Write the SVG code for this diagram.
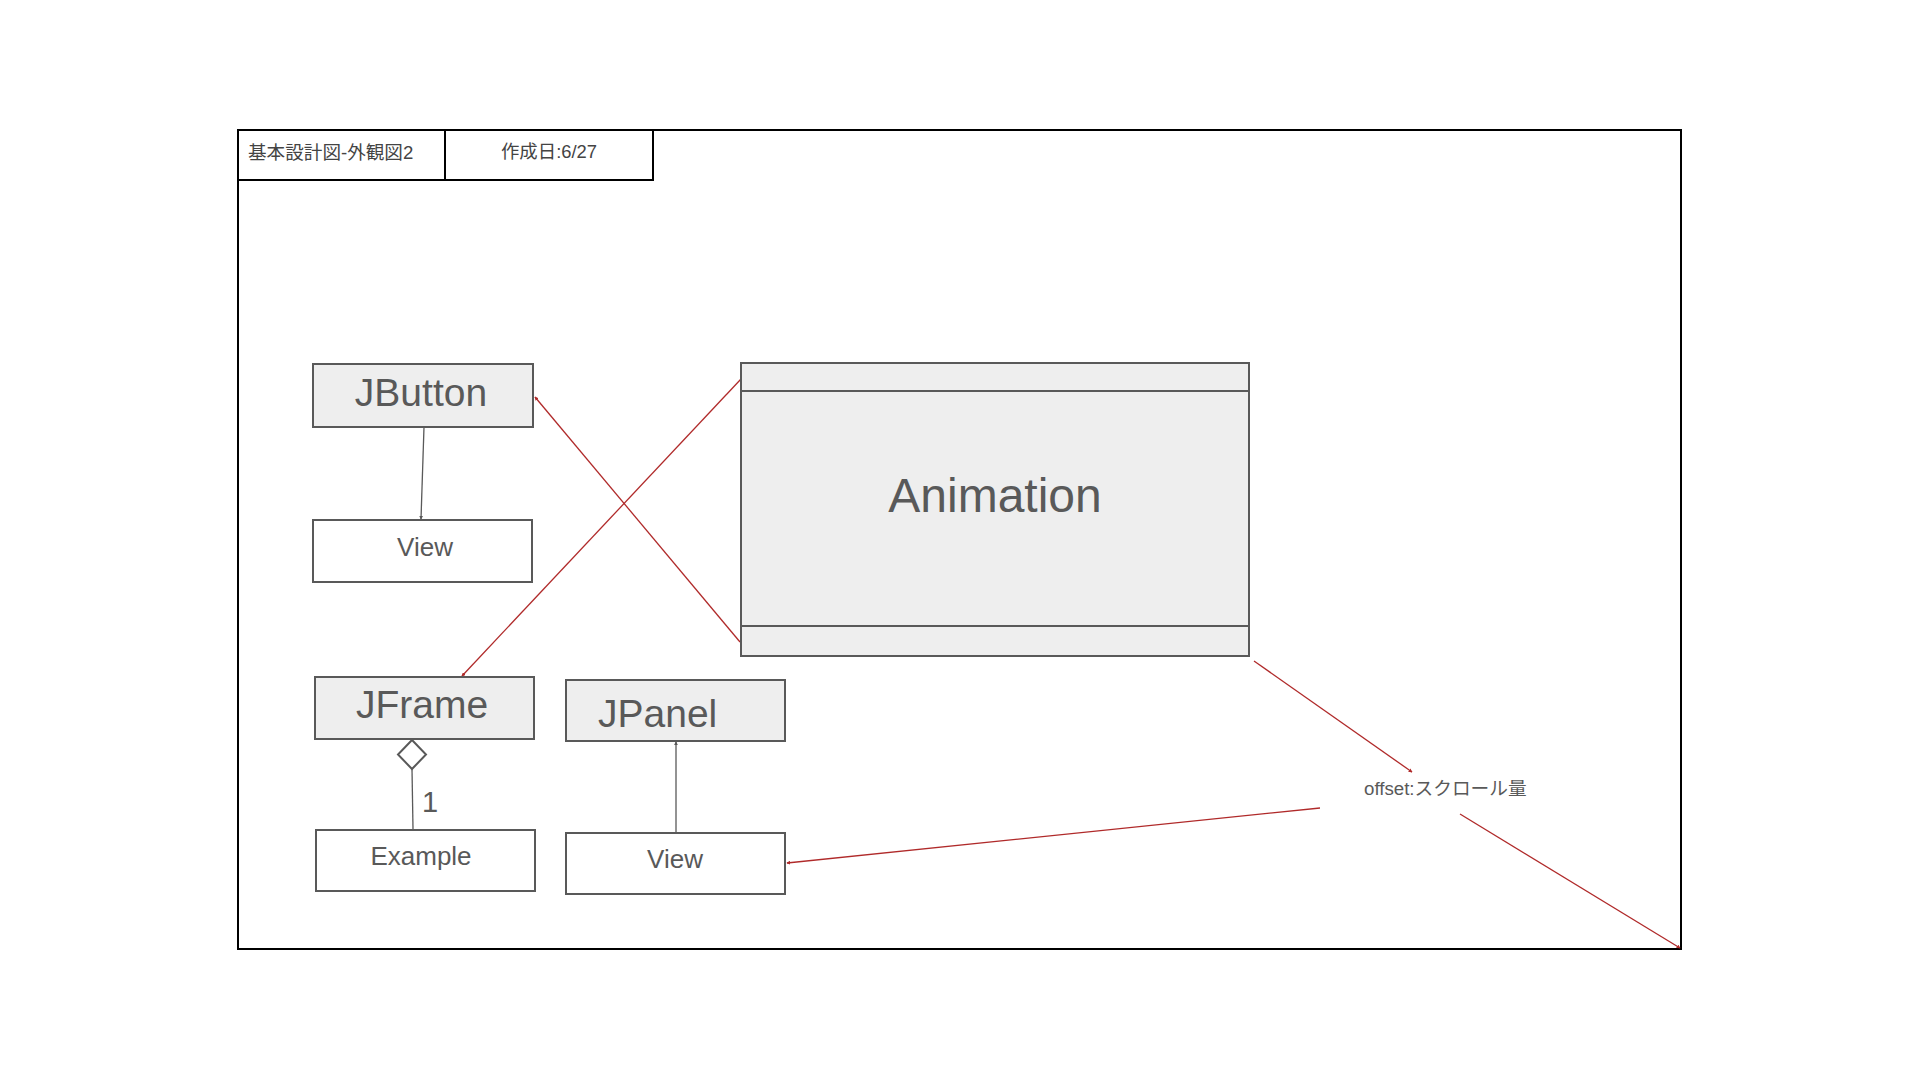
<svg xmlns="http://www.w3.org/2000/svg" width="1920" height="1080" viewBox="0 0 1920 1080">
<style>
.frame{fill:none;stroke:#000;stroke-width:2}
.cls{fill:#eeeeee;stroke:#595959;stroke-width:2}
.obj{fill:#ffffff;stroke:#595959;stroke-width:2}
.t{font-family:"Liberation Sans","Noto Sans CJK JP",sans-serif;fill:#595959}
.tk{font-family:"Liberation Sans","Noto Sans CJK JP",sans-serif;fill:#444}
.gl{stroke:#595959;stroke-width:1.3;fill:none}
.rl{stroke:#b02a2a;stroke-width:1.3;fill:none;marker-end:url(#ah)}
</style>
<defs>
<marker id="ah" viewBox="0 0 6 6" refX="5" refY="3" markerWidth="4" markerHeight="4" orient="auto" markerUnits="userSpaceOnUse">
<path d="M0,0 L6,3 L0,6 z" fill="#b02a2a"/>
</marker>
<marker id="ag" viewBox="0 0 6 6" refX="5" refY="3" markerWidth="4" markerHeight="4" orient="auto" markerUnits="userSpaceOnUse">
<path d="M0,0 L6,3 L0,6 z" fill="#595959"/>
</marker>
</defs>
<rect width="1920" height="1080" fill="#fff"/>
<g id="frame">
<rect class="frame" x="238" y="130" width="1443" height="819"/>
<rect class="frame" x="238" y="130" width="207" height="50"/>
<rect class="frame" x="445" y="130" width="208" height="50"/>
<text class="tk" x="248" y="159" font-size="18.6">基本設計図-外観図2</text>
<text class="tk" x="549" y="158" font-size="18.4" text-anchor="middle">作成日:6/27</text>
</g>
<g id="connectors">
<line class="gl" x1="424" y1="427" x2="421" y2="519" marker-end="url(#ag)"/>
<line class="gl" x1="676" y1="833" x2="676" y2="742" marker-end="url(#ag)"/>
<line class="gl" x1="412" y1="769" x2="413" y2="829"/>
<polygon points="412,740 426,754.5 412,769 398,754.5" fill="#fff" stroke="#595959" stroke-width="2"/>
<text class="t" x="422" y="812" font-size="29">1</text>
<line class="rl" x1="740" y1="642" x2="535" y2="397"/>
<line class="rl" x1="741" y1="379" x2="462" y2="676"/>
<line class="rl" x1="1254" y1="661" x2="1412" y2="772"/>
<line class="rl" x1="1320" y1="808" x2="787" y2="863"/>
<line class="rl" x1="1460" y1="814" x2="1680" y2="948"/>
</g>
<g id="label-offset">
<text class="t" x="1364" y="795" font-size="18.7">offset:スクロール量</text>
</g>
<g id="jbutton">
<rect class="cls" x="313" y="364" width="220" height="63"/>
<text class="t" x="421" y="406" font-size="39" text-anchor="middle">JButton</text>
</g>
<g id="view1">
<rect class="obj" x="313" y="520" width="219" height="62"/>
<text class="t" x="425" y="556" font-size="26" text-anchor="middle">View</text>
</g>
<g id="animation">
<rect class="cls" x="741" y="363" width="508" height="293"/>
<line x1="741" y1="391" x2="1249" y2="391" stroke="#595959" stroke-width="2"/>
<line x1="741" y1="626" x2="1249" y2="626" stroke="#595959" stroke-width="2"/>
<text class="t" x="995" y="512" font-size="48" text-anchor="middle">Animation</text>
</g>
<g id="jframe">
<rect class="cls" x="315" y="677" width="219" height="62"/>
<text class="t" x="422" y="718" font-size="39" text-anchor="middle">JFrame</text>
</g>
<g id="jpanel">
<rect class="cls" x="566" y="680" width="219" height="61"/>
<text class="t" x="598" y="727" font-size="39">JPanel</text>
</g>
<g id="example">
<rect class="obj" x="316" y="830" width="219" height="61"/>
<text class="t" x="421" y="865" font-size="26" text-anchor="middle">Example</text>
</g>
<g id="view2">
<rect class="obj" x="566" y="833" width="219" height="61"/>
<text class="t" x="675" y="868" font-size="26" text-anchor="middle">View</text>
</g>
</svg>
